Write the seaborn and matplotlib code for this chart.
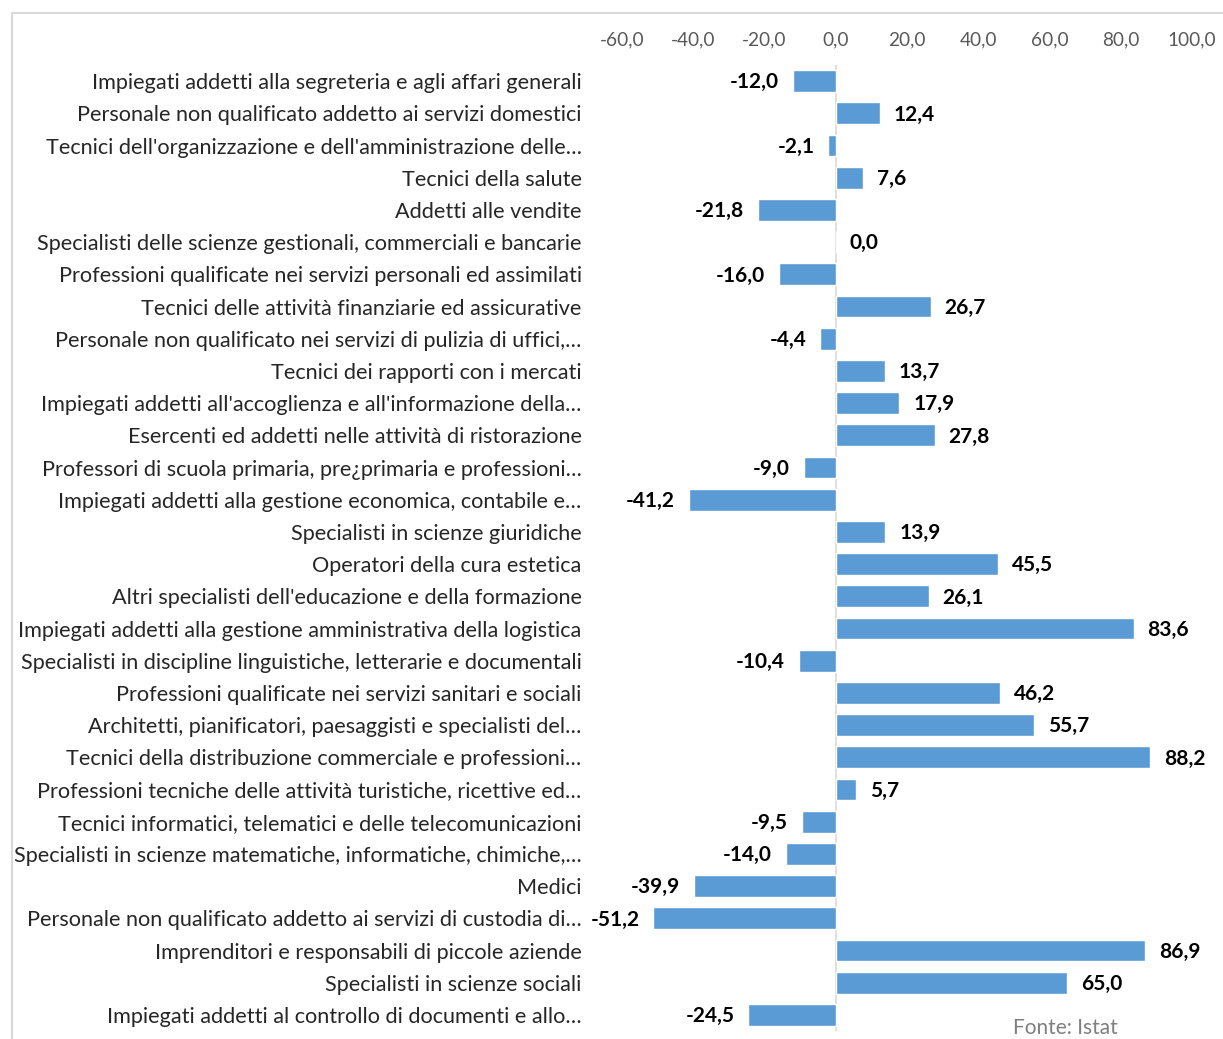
import pandas as pd
import matplotlib.pyplot as plt
import seaborn as sns
from matplotlib.patches import Rectangle

# Data
professioni = [
    "Impiegati addetti alla segreteria e agli affari generali",
    "Personale non qualificato addetto ai servizi domestici",
    "Tecnici dell'organizzazione e dell'amministrazione delle…",
    "Tecnici della salute",
    "Addetti alle vendite",
    "Specialisti delle scienze gestionali, commerciali e bancarie",
    "Professioni qualificate nei servizi personali ed assimilati",
    "Tecnici delle attività finanziarie ed assicurative",
    "Personale non qualificato nei servizi di pulizia di uffici,…",
    "Tecnici dei rapporti con i mercati",
    "Impiegati addetti all'accoglienza e all'informazione della…",
    "Esercenti ed addetti nelle attività di ristorazione",
    "Professori di scuola primaria, pre¿primaria e professioni…",
    "Impiegati addetti alla gestione economica, contabile e…",
    "Specialisti in scienze giuridiche",
    "Operatori della cura estetica",
    "Altri specialisti dell'educazione e della formazione",
    "Impiegati addetti alla gestione amministrativa della logistica",
    "Specialisti in discipline linguistiche, letterarie e documentali",
    "Professioni qualificate nei servizi sanitari e sociali",
    "Architetti, pianificatori, paesaggisti e specialisti del…",
    "Tecnici della distribuzione commerciale e professioni…",
    "Professioni tecniche delle attività turistiche, ricettive ed…",
    "Tecnici informatici, telematici e delle telecomunicazioni",
    "Specialisti in scienze matematiche, informatiche, chimiche,…",
    "Medici",
    "Personale non qualificato addetto ai servizi di custodia di…",
    "Imprenditori e responsabili di piccole aziende",
    "Specialisti in scienze sociali",
    "Impiegati addetti al controllo di documenti e allo…",
]
variazione = [-12.0, 12.4, -2.1, 7.6, -21.8, 0.0, -16.0, 26.7, -4.4, 13.7,
              17.9, 27.8, -9.0, -41.2, 13.9, 45.5, 26.1, 83.6, -10.4, 46.2,
              55.7, 88.2, 5.7, -9.5, -14.0, -39.9, -51.2, 86.9, 65.0, -24.5]
x_ticks = [-60, -40, -20, 0, 20, 40, 60, 80, 100]

df = pd.DataFrame({'Professione': professioni, 'Variazione': variazione})

sns.set_style('white')
plt.rcParams['font.family'] = ['Lato', 'DejaVu Sans']

fig = plt.figure(figsize=(12.23, 10.39), dpi=100)
ax = fig.add_axes([0.5086, 0.0077, 0.466, 0.9297])

sns.barplot(data=df, y='Professione', x='Variazione', orient='h',
            color='#5B9BD5', saturation=1, width=0.68, ax=ax)

ax.axvline(0, color='#d9d9d9', lw=1.2, zorder=0)

# value labels
for i, v in enumerate(variazione):
    lab = f"{v:.1f}".replace('.', ',')
    off = 10 if v >= 0 else -10
    ax.annotate(lab, (v, i + 0.04), xytext=(off, 0), textcoords='offset points',
                ha='left' if v >= 0 else 'right', va='center',
                fontsize=15, fontweight='bold', color='black')

ax.set_xlim(-60, 100)
ax.set_ylim(len(professioni) - 0.5, -0.5)
ax.set_xticks(x_ticks)
ax.set_xticklabels([f"{t:.1f}".replace('.', ',') for t in x_ticks],
                   fontsize=13.7, color='#595959')
ax.xaxis.tick_top()
ax.tick_params(axis='x', length=0, pad=12)
ax.tick_params(axis='y', length=0, pad=29, labelsize=15.6)
ax.set_xlabel('')
ax.set_ylabel('')
for s in ax.spines.values():
    s.set_visible(False)

fig.text(1118 / 1223, 1 - 1028 / 1039, 'Fonte: Istat', ha='right', va='center',
         fontsize=15, color='#7f7f7f')

# chart border
fig.patches.append(Rectangle((12 / 1223, -0.01), 1.1, 1 - 13 / 1039 + 0.01,
                             transform=fig.transFigure, fill=False,
                             edgecolor='#d9d9d9', lw=1.5))

plt.savefig('out.png', dpi=100)
